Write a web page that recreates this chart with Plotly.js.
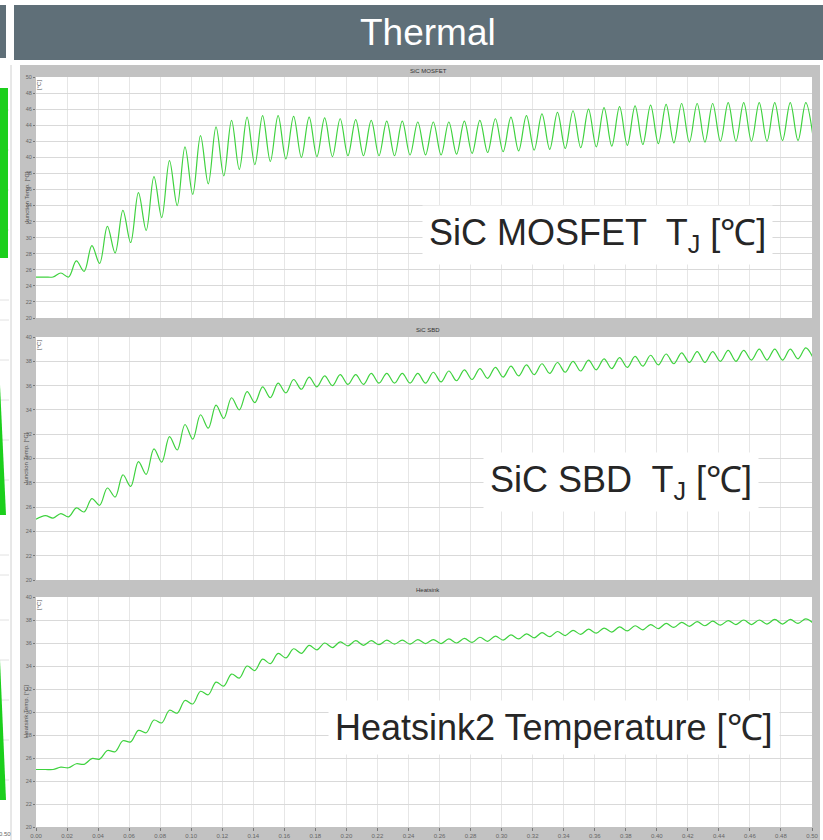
<!DOCTYPE html>
<html>
<head>
<meta charset="utf-8">
<script src="https://cdn.plot.ly/plotly-3.0.1.min.js"></script>
<style>
html,body{margin:0;padding:0;background:#fff;}
#chart{width:823px;height:840px;}
</style>
</head>
<body>
<div id="chart"></div>
<script>
// ---------------- DATA ----------------
const pageTitle = "Thermal";
const panelTitles = ["SiC MOSFET", "SiC SBD", "Heatsink"];
const yAxisTitles = ["Junction Temp. [°C]", "Junction Temp. [°C]", "Heatsink Temp. [°C]"];
const bigLabels = ["SiC MOSFET  T<sub>J</sub> [℃]", "SiC SBD  T<sub>J</sub> [℃]", "Heatsink2 Temperature [℃]"];
const yRanges = [[20, 50], [20, 40], [20, 40]];
const xTickLabels = ["0.00","0.02","0.04","0.06","0.08","0.10","0.12","0.14","0.16","0.18","0.20","0.22","0.24",
  "0.26","0.28","0.30","0.32","0.34","0.36","0.38","0.40","0.42","0.44","0.46","0.48","0.50"];

// simulation time (s) of the ripple maxima and minima
const peakTimes = [0.006,0.016,0.026,0.036,0.046,0.056,0.066,0.076,0.086,0.096,0.106,0.116,0.126,0.136,0.146,0.156,0.166,
  0.176,0.186,0.196,0.206,0.216,0.226,0.236,0.246,0.256,0.266,0.276,0.286,0.296,0.306,0.316,0.326,0.336,0.346,0.356,
  0.366,0.376,0.386,0.396,0.406,0.416,0.426,0.436,0.446,0.456,0.466,0.476,0.486,0.496];
const troughTimes = [0.011,0.021,0.031,0.041,0.051,0.061,0.071,0.081,0.091,0.101,0.111,0.121,0.131,0.141,0.151,0.161,0.171,
  0.181,0.191,0.201,0.211,0.221,0.231,0.241,0.251,0.261,0.271,0.281,0.291,0.301,0.311,0.321,0.331,0.341,0.351,0.361,
  0.371,0.381,0.391,0.401,0.411,0.421,0.431,0.441,0.451,0.461,0.471,0.481,0.491,0.501];
const startTemps = [25.1, 25.0, 25.0];

const mosfetPeaks = [25.1,25.6,27.1,29.0,31.4,33.4,35.6,37.6,39.6,41.3,42.7,43.8,44.6,45.0,45.2,45.2,45.1,45.0,44.9,44.8,
  44.7,44.6,44.5,44.5,44.4,44.4,44.4,44.5,44.6,44.8,45.0,45.2,45.4,45.6,45.8,46.0,46.2,46.3,46.4,46.5,46.6,46.7,46.7,
  46.7,46.8,46.8,46.8,46.8,46.8,46.8];
const mosfetTroughs = [25.1,25.1,25.8,26.8,28.1,29.4,30.9,32.5,34.0,35.4,36.7,37.7,38.5,39.1,39.5,39.8,40.0,40.1,40.1,
  40.2,40.2,40.2,40.2,40.3,40.3,40.3,40.4,40.5,40.6,40.7,40.8,40.9,41.0,41.1,41.2,41.3,41.4,41.5,41.6,41.7,41.8,41.9,
  41.9,42.0,42.0,42.0,42.0,42.1,42.1,42.1];

const sbdPeaks = [25.3,25.47,25.93,26.7,27.57,28.66,29.75,30.8,31.8,32.8,33.6,34.4,35.0,35.5,35.9,36.2,36.5,36.7,36.8,
  36.9,36.9,37.0,37.0,37.0,37.0,37.1,37.2,37.3,37.4,37.5,37.6,37.7,37.8,37.9,38.0,38.1,38.2,38.3,38.4,38.5,38.6,38.7,
  38.8,38.8,38.9,38.9,39.0,39.0,39.0,39.1];
const sbdTroughs = [25.1,25.2,25.6,26.15,26.83,27.7,28.7,29.7,30.7,31.6,32.5,33.3,34.0,34.6,35.0,35.4,35.7,35.9,36.0,
  36.1,36.1,36.2,36.2,36.2,36.2,36.3,36.4,36.5,36.6,36.7,36.8,36.9,37.0,37.1,37.2,37.3,37.4,37.5,37.6,37.7,37.8,37.9,
  37.9,38.0,38.0,38.1,38.1,38.1,38.2,38.2];

const heatsinkPeaks = [25.0,25.2,25.5,25.95,26.65,27.5,28.4,29.3,30.15,31.0,31.8,32.6,33.3,34.0,34.6,35.1,35.5,35.8,
  36.0,36.1,36.2,36.2,36.25,36.25,36.3,36.3,36.35,36.4,36.5,36.6,36.7,36.8,36.9,37.0,37.1,37.2,37.3,37.4,37.5,37.6,
  37.7,37.8,37.85,37.9,37.95,38.0,38.0,38.05,38.05,38.1];
const heatsinkTroughs = [25.0,25.15,25.45,25.9,26.55,27.4,28.2,29.05,29.9,30.7,31.5,32.25,32.95,33.6,34.2,34.7,35.1,
  35.4,35.6,35.75,35.8,35.85,35.9,35.9,35.95,35.95,36.0,36.05,36.15,36.25,36.35,36.45,36.55,36.65,36.75,36.85,36.95,
  37.05,37.15,37.25,37.35,37.45,37.5,37.55,37.6,37.6,37.65,37.65,37.7,37.7];

// ---------------- LAYOUT HELPERS ----------------
const W = 823, H = 840;
const px = x => x / W;
const py = y => 1 - y / H;
const FONT = "Liberation Sans, Arial, sans-serif";
const lineColor = "#3fd23f";

function wave(start, peaks, troughs) {
  const xs = [0], ys = [start];
  const n = Math.min(peakTimes.length, troughTimes.length, peaks.length, troughs.length);
  for (let i = 0; i < n; i++) {
    xs.push(peakTimes[i]); ys.push(peaks[i]);
    xs.push(troughTimes[i]); ys.push(troughs[i]);
  }
  return {xs, ys};
}
const series = [
  wave(startTemps[0], mosfetPeaks, mosfetTroughs),
  wave(startTemps[1], sbdPeaks, sbdTroughs),
  wave(startTemps[2], heatsinkPeaks, heatsinkTroughs)
];

// panel geometry (pixels)
const plotLeft = 36, plotRight = 812;
const plotTops = [77, 337, 597];
const plotBottoms = [318, 580, 827];
const titleY = [71, 330, 590];
const bigPos = [[597, 235], [621, 482], [554, 727]];

const traces = series.map((s, i) => ({
  type: "scatter", mode: "lines",
  x: s.xs, y: s.ys,
  xaxis: i === 0 ? "x" : "x" + (i + 1),
  yaxis: i === 0 ? "y" : "y" + (i + 1),
  line: {color: lineColor, width: 1.2, shape: "spline", smoothing: 1},
  hoverinfo: "skip", showlegend: false
}));

const layout = {
  width: W, height: H,
  margin: {l: 0, r: 0, t: 0, b: 0},
  paper_bgcolor: "#ffffff",
  plot_bgcolor: "rgba(0,0,0,0)",
  showlegend: false,
  font: {family: FONT, color: "#555"},
  shapes: [],
  annotations: []
};

const tickVals = xTickLabels.map(Number);
for (let i = 0; i < 3; i++) {
  const xa = i === 0 ? "xaxis" : "xaxis" + (i + 1);
  const ya = i === 0 ? "yaxis" : "yaxis" + (i + 1);
  layout[xa] = {
    domain: [px(plotLeft), px(plotRight)],
    anchor: i === 0 ? "y" : "y" + (i + 1),
    range: [0, 0.5], tickvals: tickVals, ticktext: xTickLabels,
    showgrid: true, gridcolor: "#e6e6e6", gridwidth: 1,
    zeroline: false, showline: false,
    showticklabels: i === 2, ticks: i === 2 ? "outside" : "", ticklen: 3, tickcolor: "#777",
    tickfont: {size: 6, color: "#666"}, fixedrange: true
  };
  layout[ya] = {
    domain: [py(plotBottoms[i]), py(plotTops[i])],
    anchor: i === 0 ? "x" : "x" + (i + 1),
    range: yRanges[i], dtick: 2, tick0: 20,
    showgrid: true, gridcolor: "#d9d9d9", gridwidth: 1,
    zeroline: false, showline: false,
    ticks: "outside", ticklen: 2, tickcolor: "#777",
    tickfont: {size: 5.5, color: "#666"}, fixedrange: true
  };
}

// header bars
layout.shapes.push({type: "rect", xref: "paper", yref: "paper", x0: px(0), x1: px(6), y0: py(58), y1: py(5),
  fillcolor: "#5f6f78", line: {width: 0}, layer: "below"});
layout.shapes.push({type: "rect", xref: "paper", yref: "paper", x0: px(14), x1: px(823), y0: py(60), y1: py(5),
  fillcolor: "#5f6f78", line: {width: 0}, layer: "below"});
// gray instrument panel
layout.shapes.push({type: "rect", xref: "paper", yref: "paper", x0: px(20), x1: px(820), y0: py(840), y1: py(65),
  fillcolor: "#c2c2c2", line: {width: 0}, layer: "below"});
for (let i = 0; i < 3; i++) {
  layout.shapes.push({type: "rect", xref: "paper", yref: "paper", x0: px(plotLeft), x1: px(plotRight),
    y0: py(plotBottoms[i]), y1: py(plotTops[i]), fillcolor: "#ffffff", line: {width: 0}, layer: "below"});
}
// neighbouring slide at the far left
[110, 150, 190, 230, 300, 320, 360, 400, 440, 480, 555, 575, 620, 660, 700, 740, 780].forEach(yy => {
  layout.shapes.push({type: "line", xref: "paper", yref: "paper", x0: px(0), x1: px(9), y0: py(yy), y1: py(yy),
    line: {color: "#e2e2e2", width: 1}, layer: "below"});
});
layout.shapes.push({type: "rect", xref: "paper", yref: "paper", x0: px(0), x1: px(8), y0: py(258), y1: py(88),
  fillcolor: "#1ccf1c", line: {width: 0}, layer: "below"});
layout.shapes.push({type: "path", xref: "paper", yref: "paper",
  path: `M ${px(0)} ${py(385)} L ${px(6)} ${py(515)} L ${px(0)} ${py(515)} Z`,
  fillcolor: "#1ccf1c", line: {width: 0}, layer: "below"});
layout.shapes.push({type: "path", xref: "paper", yref: "paper",
  path: `M ${px(0)} ${py(660)} L ${px(6)} ${py(800)} L ${px(0)} ${py(800)} Z`,
  fillcolor: "#1ccf1c", line: {width: 0}, layer: "below"});
layout.shapes.push({type: "line", xref: "paper", yref: "paper", x0: px(11), x1: px(11), y0: py(840), y1: py(65),
  line: {color: "#d0d0d0", width: 1}, layer: "below"});

// title
layout.annotations.push({xref: "paper", yref: "paper", x: px(428), y: py(33), text: pageTitle, showarrow: false,
  font: {family: FONT, size: 37, color: "#ffffff"}, xanchor: "center", yanchor: "middle"});

for (let i = 0; i < 3; i++) {
  layout.annotations.push({xref: "paper", yref: "paper", x: px(428), y: py(titleY[i]), text: panelTitles[i],
    showarrow: false, font: {family: FONT, size: 6, color: "#333"}, xanchor: "center", yanchor: "middle"});
  layout.annotations.push({xref: "paper", yref: "paper", x: px(21), y: py((plotTops[i] + plotBottoms[i]) / 2),
    text: yAxisTitles[i], textangle: -90, showarrow: false,
    font: {family: FONT, size: 6, color: "#555"}, xanchor: "left", yanchor: "middle"});
  layout.annotations.push({xref: "paper", yref: "paper", x: px(39), y: py(plotTops[i] + 8),
    text: "[°C]", textangle: -90, showarrow: false,
    font: {family: FONT, size: 6, color: "#555"}, xanchor: "center", yanchor: "middle"});
  layout.annotations.push({xref: "paper", yref: "paper", x: px(bigPos[i][0]), y: py(bigPos[i][1]),
    text: bigLabels[i], showarrow: false, bgcolor: "#ffffff", borderpad: 6,
    font: {family: FONT, size: 36, color: "#262626"}, xanchor: "center", yanchor: "middle"});
}
layout.annotations.push({xref: "paper", yref: "paper", x: px(5), y: py(834), text: "0.50", showarrow: false,
  font: {family: FONT, size: 6, color: "#666"}, xanchor: "center", yanchor: "middle"});

Plotly.newPlot("chart", traces, layout, {displayModeBar: false, staticPlot: true});
</script>
</body>
</html>
